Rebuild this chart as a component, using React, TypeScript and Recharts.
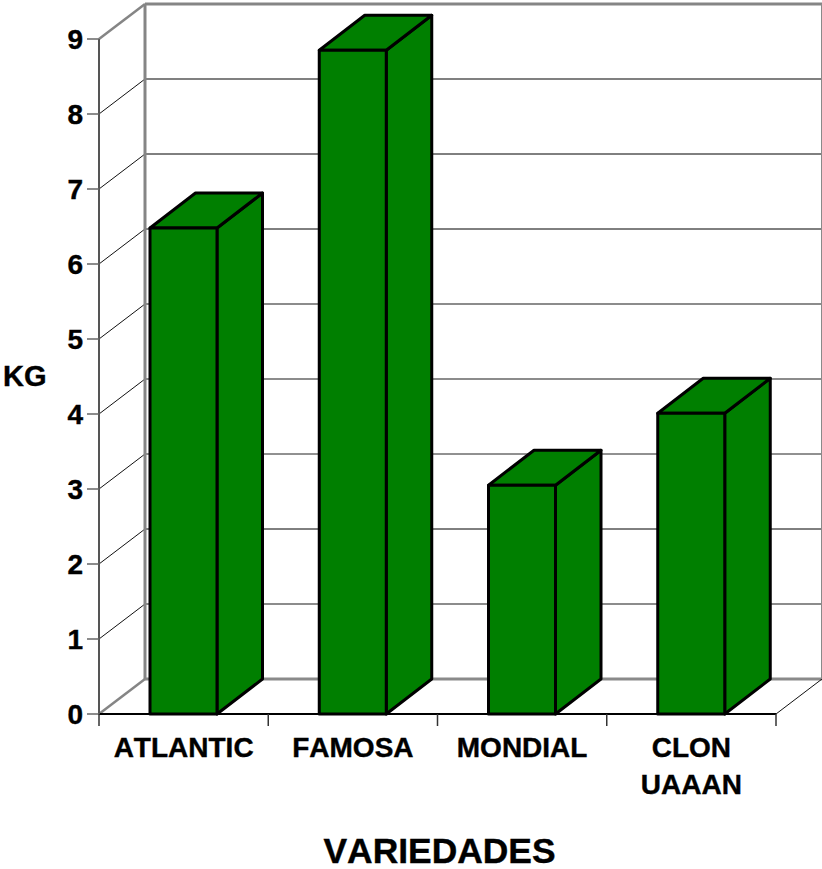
import { BarChart, Bar, XAxis, YAxis, ReferenceLine, Label } from "recharts";

const varieties = ["ATLANTIC", "FAMOSA", "MONDIAL", "CLON UAAAN"];
const yields = [6.48, 8.85, 3.05, 4.01];
const yTicks = [0, 1, 2, 3, 4, 5, 6, 7, 8, 9];

const rows = varieties.map((name, i) => ({ name, kg: yields[i] }));

// offset of the back wall from the front plane
const DX = 46;
const DY = 35;
const BAR_DX = 45.5;
const PLOT_H = 675;
const GREEN = "#007f00";
const FONT = "Liberation Sans";

// wall line look per tick, bottom to top
const wallStroke = ["#8a8a8a", "#666", "#000", "#222", "#666", "#666", "#000", "#000", "#808080", "#858585"];
const wallWidth = [3, 1.5, 1, 1, 1.5, 1.5, 1, 1, 2, 3];

const boldText = { fontKerning: "none" as const, stroke: "#000", strokeWidth: 0.4 };

function WallLine(props: any) {
  const { x1, x2, y1 } = props;
  const v = props.tick as number;
  const idx = yTicks.indexOf(v);
  const top = v === 9;
  const floor = v === 0;
  const edge = top || floor;
  return (
    <g>
      <line
        x1={x1}
        y1={y1}
        x2={x1 + DX}
        y2={y1 - DY}
        stroke={edge ? "#858585" : "#111"}
        strokeWidth={edge ? 2.5 : 1}
      />
      <line x1={x1 + DX} y1={y1 - DY} x2={x2 + DX} y2={y1 - DY} stroke={wallStroke[idx]} strokeWidth={wallWidth[idx]} />
      {top && (
        <>
          <line x1={x1 + DX} y1={y1 - DY} x2={x1 + DX} y2={y1 - DY + PLOT_H} stroke="#858585" strokeWidth={3} />
          <line x1={x2 + DX} y1={y1 - DY} x2={x2 + DX} y2={y1 - DY + PLOT_H} stroke="#8a8a8a" strokeWidth={2} />
        </>
      )}
      {floor && <line x1={x2} y1={y1} x2={x2 + DX} y2={y1 - DY} stroke="#111" strokeWidth={1} />}
    </g>
  );
}

function Box3D(props: any) {
  const { x, y, width, height } = props;
  const right = x + width;
  const bottom = y + height;
  return (
    <g stroke="#000" strokeWidth={3} strokeLinejoin="round" fill={GREEN}>
      <path d={`M${right} ${y}L${right + BAR_DX} ${y - DY}V${bottom - DY}L${right} ${bottom}Z`} />
      <path d={`M${x} ${y}L${x + BAR_DX} ${y - DY}H${right + BAR_DX}L${right} ${y}Z`} />
      <rect x={x} y={y} width={width} height={height} />
    </g>
  );
}

function CategoryTick(props: any) {
  const { x, y, payload, index } = props;
  const band = 169.25;
  const words = String(payload.value).split(" ");
  return (
    <g>
      <line x1={x - band / 2} y1={714} x2={x - band / 2} y2={726} stroke="#333" strokeWidth={1.5} />
      {index === varieties.length - 1 && (
        <line x1={x + band / 2} y1={714} x2={x + band / 2} y2={726} stroke="#333" strokeWidth={1.5} />
      )}
      <text x={x} y={y} textAnchor="middle" fontFamily={FONT} fontWeight="bold" fontSize={28} fill="#000" style={boldText}>
        {words.map((w, i) => (
          <tspan key={w} x={x} y={757 + i * 37}>
            {w}
          </tspan>
        ))}
      </text>
    </g>
  );
}

export default function App() {
  return (
    <div style={{ position: "absolute", left: 0, top: 0, width: 822, height: 869, background: "#fff" }}>
      <BarChart
        width={822}
        height={869}
        data={rows}
        margin={{ top: 39, right: 46, bottom: 0, left: 0 }}
        barCategoryGap={0}
      >
        <XAxis
          dataKey="name"
          height={155}
          interval={0}
          axisLine={{ stroke: "#000", strokeWidth: 2 }}
          tickLine={false}
          tick={<CategoryTick />}
        >
          <Label
            value="VARIEDADES"
            position="insideBottom"
            offset={6.5}
            dx={2}
            fontFamily={FONT}
            fontWeight="bold"
            fontSize={35.4}
            fill="#000"
            style={boldText}
          />
        </XAxis>
        <YAxis
          width={99}
          domain={[0, 9]}
          ticks={yTicks}
          interval={0}
          tickSize={12}
          tickMargin={4}
          axisLine={{ stroke: "#555", strokeWidth: 2 }}
          tickLine={{ stroke: "#666", strokeWidth: 1.5 }}
          tick={{ fontFamily: FONT, fontWeight: "bold", fontSize: 28, fill: "#000", ...boldText }}
        >
          <Label
            value="KG"
            position="insideLeft"
            offset={3}
            dy={-1}
            fontFamily={FONT}
            fontWeight="bold"
            fontSize={29}
            fill="#000"
            style={boldText}
          />
        </YAxis>
        {yTicks.map((t) => (
          <ReferenceLine
            key={t}
            y={t}
            ifOverflow="visible"
            zIndex={-50}
            shape={(p: any) => <WallLine {...p} tick={t} />}
          />
        ))}
        <Bar dataKey="kg" barSize={67} isAnimationActive={false} shape={<Box3D />} />
      </BarChart>
    </div>
  );
}
